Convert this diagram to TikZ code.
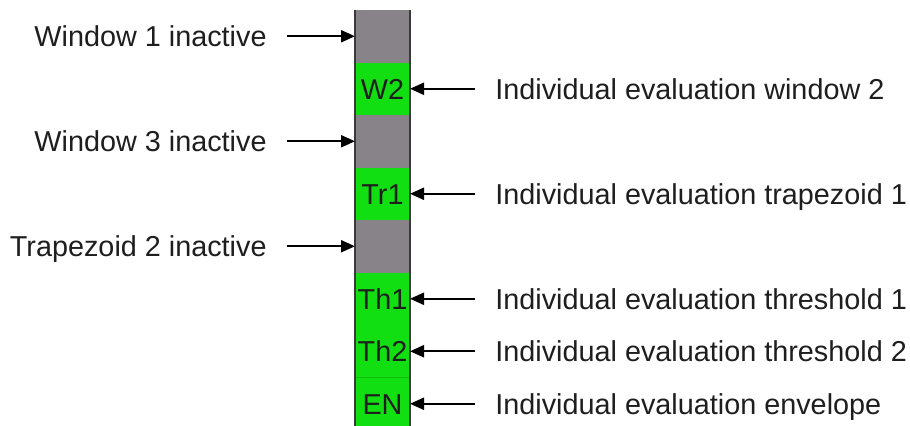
\documentclass[tikz,border=0pt]{standalone}
\usepackage{fontspec}
\setmainfont{Liberation Sans}
\usetikzlibrary{arrows.meta}
\usepackage{xcolor}
\definecolor{segoff}{HTML}{878389}
\definecolor{segon}{HTML}{12DF12}
\definecolor{segedge}{HTML}{3A3A3A}
\definecolor{lbltext}{HTML}{1E1E1E}

\begin{document}
\begin{tikzpicture}[x=0.5pt, y=-0.5pt, font=\fontsize{14.4}{17}\selectfont, text=lbltext,
    seg/.style={minimum width=27.5pt, minimum height=26.25pt, inner sep=0pt, outer sep=0pt},
    lbl/.style={inner xsep=10pt, inner ysep=0pt, text height=10.3pt, text depth=0pt},
    pointer/.style={-{Triangle[length=7pt,width=6pt]}, line width=1.1pt}]
    \clip (0,0) rectangle (910,425);
    \node[seg, fill=segoff] (s1) at (382.5,36.25) {};
    \node[seg, fill=segon, text height=10.3pt] (s2) at (382.5,88.75) {W2};
    \node[seg, fill=segoff] (s3) at (382.5,141.25) {};
    \node[seg, fill=segon, text height=10.3pt] (s4) at (382.5,193.75) {Tr1};
    \node[seg, fill=segoff] (s5) at (382.5,246.25) {};
    \node[seg, fill=segon, text height=10.3pt] (s6) at (382.5,298.75) {Th1};
    \node[seg, fill=segon, text height=10.3pt] (s7) at (382.5,351.25) {Th2};
    \node[seg, fill=segon, text height=10.3pt] (s8) at (382.5,403.75) {EN};
    \draw[segon!70!black, line width=0.4pt, opacity=0.5] (s7.south west) -- (s7.south east);
    \draw[segedge, line width=1pt] (s1.north west) -- (s8.south west);
    \draw[segedge, line width=1pt] (s1.north east) -- (s8.south east);

    % inactive parts on the left
    \node[lbl, anchor=east] (w1) at (287,36.25) {Window 1 inactive};
    \node[lbl, anchor=east] (w3) at (287,141.25) {Window 3 inactive};
    \node[lbl, anchor=east] (tz2) at (287,246.25) {Trapezoid 2 inactive};
    \draw[pointer] (w1.east) -- (s1.west);
    \draw[pointer] (w3.east) -- (s3.west);
    \draw[pointer] (tz2.east) -- (s5.west);

    % individual evaluations on the right
    \node[lbl, anchor=west] (ew2) at (475,88.75) {Individual evaluation window 2};
    \node[lbl, anchor=west] (etr1) at (475,193.75) {Individual evaluation trapezoid 1};
    \node[lbl, anchor=west] (eth1) at (475,298.75) {Individual evaluation threshold 1};
    \node[lbl, anchor=west] (eth2) at (475,351.25) {Individual evaluation threshold 2};
    \node[lbl, anchor=west] (een) at (475,403.75) {Individual evaluation envelope};
    \draw[pointer] (ew2.west) -- (s2.east);
    \draw[pointer] (etr1.west) -- (s4.east);
    \draw[pointer] (eth1.west) -- (s6.east);
    \draw[pointer] (eth2.west) -- (s7.east);
    \draw[pointer] (een.west) -- (s8.east);
\end{tikzpicture}
\end{document}
